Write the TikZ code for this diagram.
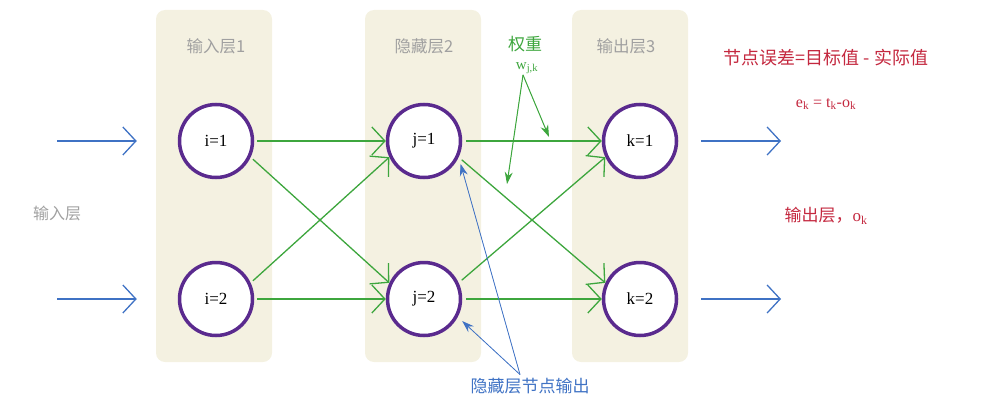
\documentclass[tikz,border=0pt]{standalone}
\usepackage{fontspec}
\setmainfont{Liberation Serif}
\newfontfamily\cjk{Noto Sans CJK SC}
\usetikzlibrary{arrows.meta,positioning}
\definecolor{panel}{HTML}{F4F1E1}
\definecolor{ring}{HTML}{5A2A8E}
\definecolor{wgreen}{HTML}{3DA63D}
\definecolor{fblue}{HTML}{3F72C4}
\definecolor{ered}{HTML}{C4283F}
\definecolor{lgray}{HTML}{A0A0A0}

\begin{document}
\begin{tikzpicture}[x=1pt,y=-1pt,
  layer/.style={fill=panel,rounded corners=9pt,draw=none},
  neuron/.style={circle,draw=ring,line width=3.5pt,fill=white,minimum size=73pt,inner sep=0pt,font=\fontsize{17}{20}\selectfont},
  title/.style={text=lgray,font=\cjk\fontsize{16.5}{20}\selectfont},
  weight/.style={draw=wgreen,line width=1.3pt,-{Straight Barb[length=13pt,width=28pt,line width=1.3pt]}},
  feed/.style={draw=fblue,line width=1.3pt,-{Straight Barb[length=13pt,width=28pt,line width=1.3pt]}},
  point/.style={line width=1pt,-{Stealth[length=12pt,width=8pt]}},
  note/.style={font=\cjk\fontsize{17}{20}\selectfont}]
\useasboundingbox (0,0) rectangle (984,412);

% layer panels
\fill[layer] (156,10) rectangle (272,362);
\fill[layer] (365,10) rectangle (481,362);
\fill[layer] (572,10) rectangle (688,362);

\node[title] (L1) at (216,46) {输入层1};
\node[title] (L2) at (424,46) {隐藏层2};
\node[title] (L3) at (626,46) {输出层3};
\node[title,font=\cjk\fontsize{16}{19}\selectfont] (inlab) at (57,213) {输入层};

% neurons
\node[neuron] (i1) at (216,141) {i=1};
\node[neuron] (i2) at (216,299) {i=2};
\node[neuron] (j1) at (424,141) {j=1};
\node[neuron] (j2) at (424,299) {j=2};
\node[neuron] (k1) at (640,141) {k=1};
\node[neuron] (k2) at (640,299) {k=2};

% inputs and outputs
\coordinate (in1) at (57,141);
\coordinate (in2) at (57,299);
\coordinate (out1) at (781,141);
\coordinate (out2) at (781,299);
\draw[feed,shorten >=41pt] (in1) -- (in1 -| i1.west);
\draw[feed,shorten >=41pt] (in2) -- (in2 -| i2.west);
\draw[feed,shorten <=23pt] (k1.east) -- (out1);
\draw[feed,shorten <=23pt] (k2.east) -- (out2);

% weights
\draw[weight,shorten <=3pt] (i1.east) -- (j1.west);
\draw[weight,shorten <=3pt] (i1.-25) -- (j2.155);
\draw[weight,shorten <=3pt] (i2.25) -- (j1.-155);
\draw[weight,shorten <=3pt] (i2.east) -- (j2.west);
\draw[weight,shorten <=4pt] (j1.east) -- (k1.west);
\draw[weight,shorten <=4pt] (j1.-25) -- (k2.155);
\draw[weight,shorten <=4pt] (j2.25) -- (k1.-155);
\draw[weight,shorten <=4pt] (j2.east) -- (k2.west);

% weight label
\node[note,text=wgreen] (wt) at (525,44) {权重};
\node[text=wgreen,font=\fontsize{15}{17}\selectfont,inner sep=1pt] (wjk) at (527,68) {w\textsubscript{j,k}};
\coordinate (wa) at (549,137);
\coordinate (wb) at (507,184);
\draw[point,draw=wgreen,fill=wgreen] ([xshift=-4pt]wjk.south) -- (wa);
\draw[point,draw=wgreen,fill=wgreen] ([xshift=-4pt]wjk.south) -- (wb);

% hidden output label
\node[note,text=fblue] (hid) at (530,386) {隐藏层节点输出};
\draw[point,draw=fblue,fill=fblue,line width=0.8pt,shorten >=7pt] ([xshift=-10pt]hid.north) -- (j1.-25);
\draw[point,draw=fblue,fill=fblue,line width=0.8pt,shorten >=6pt] ([xshift=-10pt]hid.north) -- (j2.-28);

% error text
\node[note,text=ered,font=\cjk\fontsize{18}{21}\selectfont] (err) at (826,58) {节点误差=目标值 - 实际值};
\node[text=ered,font=\fontsize{16}{18}\selectfont] (eq) at (826,104) {e\textsubscript{k} = t\textsubscript{k}-o\textsubscript{k}};
\node[note,text=ered] (outlab) at (826,216) {输出层，{\rmfamily o\textsubscript{k}}};
\end{tikzpicture}
\end{document}
